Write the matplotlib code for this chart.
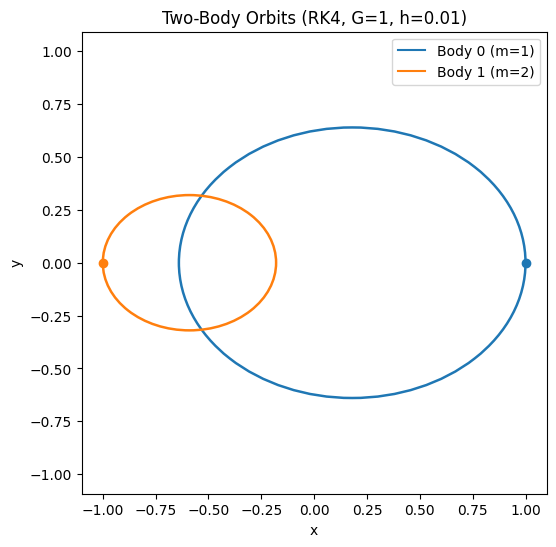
import matplotlib.pyplot as plt
from matplotlib.patches import Ellipse

# orbit shapes
labels = ['Body 0 (m=1)', 'Body 1 (m=2)']
colors = ['C0', 'C1']
center_x = [0.18, -0.59]
center_y = [0.0, 0.0]
widths = [1.64, 0.82]
heights = [1.28, 0.64]
# starting positions
start_x = [1.0, -1.0]
start_y = [0.0, 0.0]

fig, ax = plt.subplots(figsize=(6, 6))
for i in range(2):
	ax.add_patch(Ellipse((center_x[i], center_y[i]), widths[i], heights[i],
		fill=False, edgecolor=colors[i], linewidth=1.8))
	ax.plot([], [], color=colors[i], label=labels[i])
	ax.plot(start_x[i], start_y[i], 'o', color=colors[i])

ax.set_title("Two-Body Orbits (RK4, G=1, h=0.01)")
ax.set_xlabel("x")
ax.set_ylabel("y")
ax.axis('equal')
ax.set_xlim(-1.1, 1.1)
ax.legend()
plt.savefig('out.png', bbox_inches='tight')
